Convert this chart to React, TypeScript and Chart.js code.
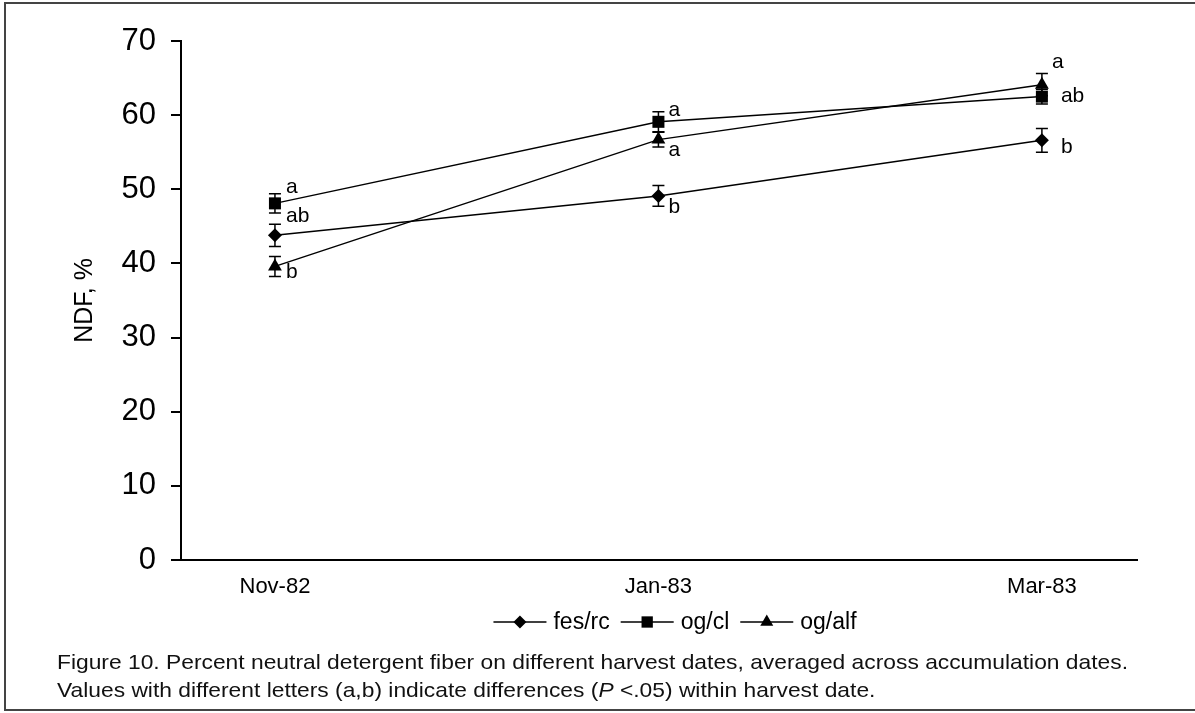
import React, { useEffect, useRef } from 'react';
import { Chart, registerables } from 'chart.js';

Chart.register(...registerables);

const categories = ['Nov-82', 'Jan-83', 'Mar-83'];
const seriesNames = ['fes/rc', 'og/cl', 'og/alf'];
const fesRc = [43.8, 49.1, 56.6];
const ogCl = [48.1, 59.1, 62.5];
const ogAlf = [39.6, 56.7, 64.1];
const fesRcErr = [1.5, 1.4, 1.6];
const ogClErr = [1.3, 1.35, 1.0];
const ogAlfErr = [1.35, 1.0, 1.5];
const fesRcLetters = ['ab', 'b', 'b'];
const ogClLetters = ['a', 'a', 'ab'];
const ogAlfLetters = ['b', 'a', 'a'];
const yTickValues = [0, 10, 20, 30, 40, 50, 60, 70];
const captionLine1 = 'Figure 10. Percent neutral detergent fiber on different harvest dates, averaged across accumulation dates.';
const captionLine2a = 'Values with different letters (a,b) indicate differences (';
const captionLine2b = 'P';
const captionLine2c = ' <.05) within harvest date.';

// label offsets (style only)
const letterOffsets = [
  [[11, -19], [10, 11], [19, 7]],
  [[11, -16], [10, -12], [19, 0]],
  [[11, 6], [10, 11], [10, -23]],
];

const FONT = "'Liberation Sans', Arial, sans-serif";

function drawMarker(ctx: CanvasRenderingContext2D, style: string, x: number, y: number, r: number) {
  ctx.beginPath();
  if (style === 'rectRot') {
    ctx.moveTo(x - r, y);
    ctx.lineTo(x, y - r);
    ctx.lineTo(x + r, y);
    ctx.lineTo(x, y + r);
  } else if (style === 'rect') {
    const s = r * Math.SQRT1_2;
    ctx.rect(x - s, y - s, 2 * s, 2 * s);
  } else {
    ctx.moveTo(x, y - r);
    ctx.lineTo(x + r * Math.sin((2 * Math.PI) / 3), y - r * Math.cos((2 * Math.PI) / 3));
    ctx.lineTo(x + r * Math.sin((4 * Math.PI) / 3), y - r * Math.cos((4 * Math.PI) / 3));
  }
  ctx.closePath();
  ctx.fill();
}

const extrasPlugin = {
  id: 'extras',
  afterDatasetsDraw(chart: any) {
    const ctx: CanvasRenderingContext2D = chart.ctx;
    const yScale = chart.scales.y;
    const errs = [fesRcErr, ogClErr, ogAlfErr];
    const letters = [fesRcLetters, ogClLetters, ogAlfLetters];
    ctx.save();
    ctx.strokeStyle = '#000';
    ctx.lineWidth = 1.5;
    chart.data.datasets.forEach((ds: any, di: number) => {
      const meta = chart.getDatasetMeta(di);
      meta.data.forEach((pt: any, i: number) => {
        const v = ds.data[i].y;
        const e = errs[di][i];
        const yt = yScale.getPixelForValue(v + e);
        const yb = yScale.getPixelForValue(v - e);
        const x = pt.x;
        ctx.beginPath();
        ctx.moveTo(x, yt);
        ctx.lineTo(x, yb);
        ctx.moveTo(x - 6, yt);
        ctx.lineTo(x + 6, yt);
        ctx.moveTo(x - 6, yb);
        ctx.lineTo(x + 6, yb);
        ctx.stroke();
      });
    });
    ctx.fillStyle = '#000';
    ctx.font = `21px ${FONT}`;
    ctx.textAlign = 'left';
    ctx.textBaseline = 'middle';
    chart.data.datasets.forEach((ds: any, di: number) => {
      const meta = chart.getDatasetMeta(di);
      meta.data.forEach((pt: any, i: number) => {
        const [dx, dy] = letterOffsets[di][i];
        ctx.fillText(letters[di][i], pt.x + dx, pt.y + dy);
      });
    });
    ctx.restore();
  },
  afterDraw(chart: any) {
    const ctx: CanvasRenderingContext2D = chart.ctx;
    ctx.save();
    // legend
    ctx.font = `23px ${FONT}`;
    ctx.textBaseline = 'middle';
    ctx.textAlign = 'left';
    const lineLen = 53;
    const gap = 7;
    const itemGap = 11;
    const widths = seriesNames.map((n) => lineLen + gap + ctx.measureText(n).width);
    const total = widths.reduce((a, b) => a + b, 0) + itemGap * (seriesNames.length - 1);
    let x = 675 - total / 2;
    const ly = 622;
    chart.data.datasets.forEach((ds: any, di: number) => {
      ctx.strokeStyle = '#000';
      ctx.fillStyle = '#000';
      ctx.lineWidth = 1.5;
      ctx.beginPath();
      ctx.moveTo(x, ly);
      ctx.lineTo(x + lineLen, ly);
      ctx.stroke();
      drawMarker(ctx, ds.pointStyle, x + lineLen / 2, ly, ds.pointRadius - 0.5);
      ctx.fillText(seriesNames[di], x + lineLen + gap, ly + 1);
      x += widths[di] + itemGap;
    });
    // caption (horizontally stretched to match the source's wide face)
    ctx.fillStyle = '#111';
    ctx.font = `21px ${FONT}`;
    const w1 = ctx.measureText(captionLine1).width;
    const sx = 1071 / w1;
    ctx.save();
    ctx.translate(57, 0);
    ctx.scale(sx, 1);
    ctx.fillText(captionLine1, 0, 663);
    let cx = 0;
    ctx.fillText(captionLine2a, cx, 691);
    cx += ctx.measureText(captionLine2a).width;
    ctx.font = `italic 21px ${FONT}`;
    ctx.fillText(captionLine2b, cx, 691);
    cx += ctx.measureText(captionLine2b).width;
    ctx.font = `21px ${FONT}`;
    ctx.fillText(captionLine2c, cx, 691);
    ctx.restore();
    // frame
    ctx.strokeStyle = '#444';
    ctx.lineWidth = 2;
    ctx.beginPath();
    ctx.moveTo(1195, 3);
    ctx.lineTo(5, 3);
    ctx.lineTo(5, 710);
    ctx.lineTo(1195, 710);
    ctx.stroke();
    ctx.restore();
  },
};

export default function App() {
  const ref = useRef<HTMLCanvasElement | null>(null);
  useEffect(() => {
    document.body.style.margin = '0';
    const toPts = (arr: number[]) => arr.map((y, i) => ({ x: i, y }));
    const chart = new Chart(ref.current as HTMLCanvasElement, {
      type: 'line',
      data: {
        datasets: [
          { label: seriesNames[0], data: toPts(fesRc), pointStyle: 'rectRot', pointRadius: 7 },
          { label: seriesNames[1], data: toPts(ogCl), pointStyle: 'rect', pointRadius: 8.5 },
          { label: seriesNames[2], data: toPts(ogAlf), pointStyle: 'triangle', pointRadius: 8 },
        ].map((d) => ({
          ...d,
          borderColor: '#000',
          backgroundColor: '#000',
          pointBackgroundColor: '#000',
          pointBorderColor: '#000',
          pointBorderWidth: 0,
          borderWidth: 1.5,
          tension: 0,
          fill: false,
        })) as any,
      },
      options: {
        animation: false,
        responsive: false,
        devicePixelRatio: 1,
        layout: { padding: { left: 0, top: 41, right: 58, bottom: 0 } },
        plugins: { legend: { display: false }, tooltip: { enabled: false } },
        scales: {
          x: {
            type: 'linear',
            min: -0.245,
            max: 2.248,
            afterBuildTicks: (axis: any) => {
              axis.ticks = categories.map((_, i) => ({ value: i }));
            },
            afterFit: (scale: any) => {
              scale.height = 153;
            },
            ticks: {
              autoSkip: false,
              maxRotation: 0,
              padding: 14,
              color: '#000',
              font: { size: 22, family: FONT },
              callback: (v: any) => categories[v] ?? '',
            },
            grid: { display: false, drawTicks: false },
            border: { display: true, color: '#000', width: 2 },
          },
          y: {
            min: 0,
            max: 70,
            afterBuildTicks: (axis: any) => {
              axis.ticks = yTickValues.map((v) => ({ value: v }));
            },
            afterFit: (scale: any) => {
              scale.width = 181;
            },
            ticks: {
              padding: 15,
              color: '#000',
              font: { size: 31, family: FONT },
            },
            grid: { drawOnChartArea: false, drawTicks: true, tickLength: 10, color: '#000', lineWidth: 2 },
            border: { display: true, color: '#000', width: 2 },
            title: {
              display: true,
              text: 'NDF, %',
              color: '#000',
              font: { size: 25, family: FONT },
              padding: { top: 70, bottom: 0 },
            },
          },
        },
      },
      plugins: [extrasPlugin],
    } as any);
    return () => chart.destroy();
  }, []);
  return (
    <div style={{ position: 'relative', width: 1195, height: 713 }}>
      <canvas ref={ref} width={1195} height={713} />
    </div>
  );
}
